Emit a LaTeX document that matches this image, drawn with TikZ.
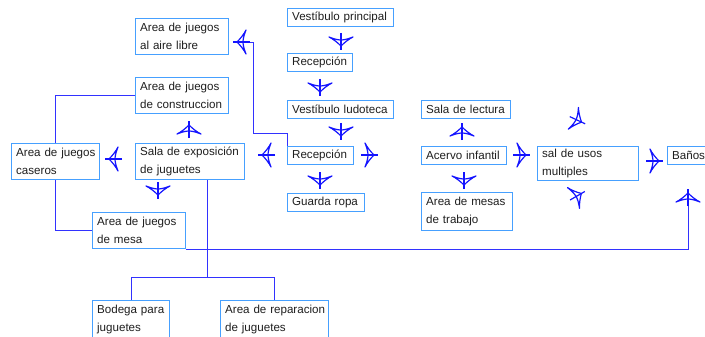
\documentclass[tikz,border=0pt]{standalone}
\usepackage{fontspec}
\setmainfont{Liberation Sans}
\definecolor{boxblue}{RGB}{70,160,255}
\definecolor{lineblue}{RGB}{50,50,255}
\definecolor{glyblue}{RGB}{20,20,255}
\definecolor{txt}{RGB}{30,30,30}
\newcommand\myboxfont{\fontsize{11.6}{18}\selectfont\hyphenpenalty10000\relax\exhyphenpenalty10000\relax\hbadness10000\relax\hfuzz100pt\relax}
\newcommand\tl[1]{\mbox{#1}}
\tikzset{
  box/.style={draw=boxblue, line width=1.3pt, inner xsep=4.5pt, inner ysep=0pt, anchor=north west,
    align=left, text=txt, font=\myboxfont, minimum height=18pt},
  conn/.style={draw=lineblue, line width=0.9pt},
  gly/.style={draw=glyblue, line width=1.2pt, line join=round},
  glyph/.pic={
    \draw[gly] (-8,0) -- (9,0);
    \draw[gly] (5,0) .. controls (1,-4) and (-2,-8) .. (-4,-12)
      .. controls (-2,-7) and (-1,-3) .. (-1,0)
      .. controls (-1,3) and (-2,7) .. (-4,12)
      .. controls (-2,8) and (1,4) .. (5,0) -- cycle;
  }
}
\begin{document}
\begin{tikzpicture}[x=1pt,y=-1pt]
\useasboundingbox (0,0) rectangle (705,337);
% nodes
\node[box, text width=84pt, minimum height=36pt] (aire) at (135,18) {\tl{Area de juegos}\\\tl{al aire libre}};
\node[box, text width=97pt] (vprin) at (287,8) {\tl{Vestíbulo principal}};
\node[box, text width=56pt] (recep1) at (287,53) {\tl{Recepción}};
\node[box, text width=97pt] (vlud) at (287,100) {\tl{Vestíbulo ludoteca}};
\node[box, text width=84pt, minimum height=36pt] (constr) at (135,77) {\tl{Area de juegos}\\\tl{de construccion}};
\node[box, text width=100pt, minimum height=36pt] (expo) at (135,143) {\tl{Sala de exposición}\\\tl{de juguetes}};
\node[box, text width=79pt, minimum height=36pt] (caseros) at (11,143) {\tl{Area de juegos}\\\tl{caseros}};
\node[box, text width=57pt] (recep2) at (287,146) {\tl{Recepción}};
\node[box, text width=68pt] (guarda) at (287,193) {\tl{Guarda ropa}};
\node[box, text width=84pt, minimum height=36pt] (mesa) at (92,212) {\tl{Area de juegos}\\\tl{de mesa}};
\node[box, text width=68pt, minimum height=37pt] (bodega) at (92,300) {\tl{Bodega para}\\\tl{juguetes}};
\node[box, text width=99pt, minimum height=37pt] (repar) at (220,300) {\tl{Area de reparacion}\\\tl{de juguetes}};
\node[box, text width=80pt] (lectura) at (421,100) {\tl{Sala de lectura}};
\node[box, text width=76pt] (acervo) at (421,146) {\tl{Acervo infantil}};
\node[box, text width=82pt, minimum height=38pt] (mesas) at (421,192) {\tl{Area de mesas}\\\tl{de trabajo}};
\node[box, text width=92pt, minimum height=34pt] (usos) at (537,146) {\tl{sal de usos}\\\tl{multiples}};
\node[box, text width=51pt] (banos) at (667,146) {\tl{Baños}};
% connectors
\coordinate (a1) at (246,42);
\coordinate (a17) at (688,196);
\draw[conn] (recep2.north west) -- ++(0,-13) -| (253,42) -- (a1);
\draw[conn] (caseros.north) |- (constr.west);
\draw[conn] (caseros.south) |- (mesa.west);
\draw[conn] ([xshift=72pt]expo.south west) -- ++(0,97) coordinate (j);
\draw[conn] (bodega.north) |- (j) -| (repar.north);
\draw[conn] (mesa.south east) -| (a17);
% arrow glyphs
\pic[rotate=180] at (242,42) {glyph};
\pic[rotate=-90] at (341,41) {glyph};
\pic[rotate=-90] at (320,87) {glyph};
\pic[rotate=-90] at (341,131) {glyph};
\pic[rotate=-90] at (320,180) {glyph};
\pic[rotate=90] at (189,130) {glyph};
\pic[rotate=180] at (267,155) {glyph};
\pic[rotate=180] at (114,159) {glyph};
\pic[rotate=-90] at (158,190) {glyph};
\pic at (369,155) {glyph};
\pic[rotate=90] at (462,132) {glyph};
\pic[rotate=-90] at (464,180) {glyph};
\pic at (521,155) {glyph};
\pic[rotate=-25] at (577,120) {glyph};
\pic[rotate=30] at (577,196) {glyph};
\pic at (654,161) {glyph};
\pic[rotate=90] at (688,198) {glyph};
\end{tikzpicture}
\end{document}
